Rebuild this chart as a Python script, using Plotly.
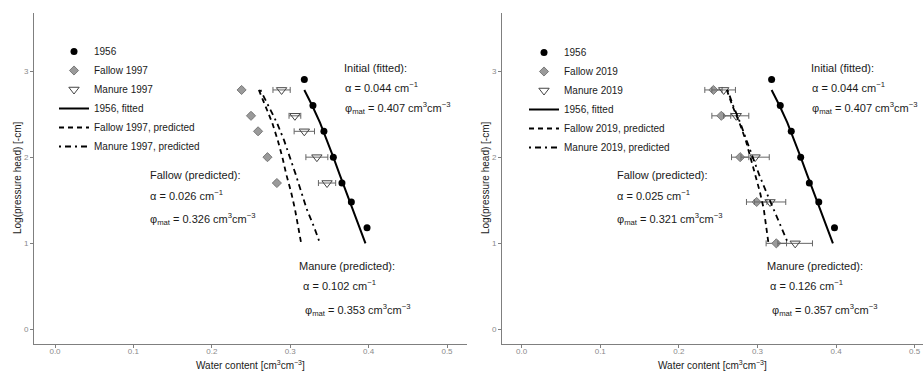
import plotly.graph_objects as go

# ---------------- data ----------------
# 1956 measurements (shared by both panels)
h_1956 = [2.90, 2.60, 2.30, 2.00, 1.70, 1.48, 1.18]
theta_1956 = [0.318, 0.329, 0.343, 0.355, 0.366, 0.378, 0.398]

# heads at which the curves are drawn
h_curve = [2.78, 2.6, 2.4, 2.2, 2.0, 1.8, 1.6, 1.4, 1.2, 1.0]
theta_1956_fit = [0.318, 0.328, 0.338, 0.347, 0.355, 0.363, 0.371, 0.379, 0.388, 0.396]

# 1997
h_1997 = [2.78, 2.48, 2.30, 2.00, 1.70]
theta_fallow_1997 = [0.238, 0.250, 0.259, 0.271, 0.283]
err_fallow_1997 = [0.002, 0.002, 0.002, 0.002, 0.002]
theta_manure_1997 = [0.289, 0.306, 0.318, 0.334, 0.347]
err_manure_1997 = [0.011, 0.0075, 0.013, 0.014, 0.011]
theta_fallow_1997_pred = [0.260, 0.268, 0.277, 0.284, 0.290, 0.295, 0.301, 0.306, 0.310, 0.314]
theta_manure_1997_pred = [0.262, 0.272, 0.283, 0.292, 0.300, 0.307, 0.314, 0.321, 0.330, 0.338]

# 2019
h_2019 = [2.78, 2.48, 2.00, 1.48, 1.00]
theta_fallow_2019 = [0.244, 0.254, 0.278, 0.299, 0.324]
err_fallow_2019 = [0.011, 0.012, 0.011, 0.013, 0.013]
theta_manure_2019 = [0.257, 0.273, 0.297, 0.316, 0.348]
err_manure_2019 = [0.015, 0.016, 0.018, 0.020, 0.022]
theta_fallow_2019_pred = [0.261, 0.268, 0.277, 0.285, 0.291, 0.297, 0.303, 0.308, 0.311, 0.314]
theta_manure_2019_pred = [0.262, 0.269, 0.278, 0.286, 0.293, 0.302, 0.311, 0.320, 0.329, 0.339]

x_ticks = [0.0, 0.1, 0.2, 0.3, 0.4, 0.5]
x_ticklabels = ["0.0", "0.1", "0.2", "0.3", "0.4", "0.5"]
y_ticks = [0, 1, 2, 3]
y_ticklabels = ["0", "1", "2", "3"]

x_title = "Water content [cm<sup>3</sup>cm<sup>−3</sup>]"
y_title = "Log(pressure head) [-cm]"

panels = [
    dict(year="1997", h=h_1997, fal=theta_fallow_1997, efal=err_fallow_1997,
         man=theta_manure_1997, eman=err_manure_1997,
         fal_pred=theta_fallow_1997_pred, man_pred=theta_manure_1997_pred,
         fal_alpha="0.026", fal_phi="0.326", man_alpha="0.102", man_phi="0.353"),
    dict(year="2019", h=h_2019, fal=theta_fallow_2019, efal=err_fallow_2019,
         man=theta_manure_2019, eman=err_manure_2019,
         fal_pred=theta_fallow_2019_pred, man_pred=theta_manure_2019_pred,
         fal_alpha="0.025", fal_phi="0.321", man_alpha="0.126", man_phi="0.357"),
]
init_alpha, init_phi = "0.044", "0.407"

# ---------------- figure ----------------
W, H = 923, 374
FONT = "Arial, Liberation Sans, sans-serif"
fig = go.Figure()

for i, p in enumerate(panels):
    xa = "x" if i == 0 else "x2"
    ya = "y" if i == 0 else "y2"
    lg = "legend" if i == 0 else "legend2"
    yr = p["year"]
    fig.add_trace(go.Scatter(x=theta_1956, y=h_1956, mode="markers", name="1956",
                             marker=dict(symbol="circle", size=7, color="black"),
                             xaxis=xa, yaxis=ya, legend=lg))
    fig.add_trace(go.Scatter(x=p["fal"], y=p["h"], mode="markers", name=f"Fallow {yr}",
                             marker=dict(symbol="diamond", size=7, color="#9a9a9a",
                                         line=dict(color="#7a7a7a", width=1)),
                             error_x=dict(type="data", array=p["efal"], color="#666666",
                                          thickness=1, width=3),
                             xaxis=xa, yaxis=ya, legend=lg))
    fig.add_trace(go.Scatter(x=p["man"], y=p["h"], mode="markers", name=f"Manure {yr}",
                             marker=dict(symbol="triangle-down-open", size=9, color="#444444",
                                         line=dict(width=1)),
                             error_x=dict(type="data", array=p["eman"], color="#666666",
                                          thickness=1, width=3),
                             xaxis=xa, yaxis=ya, legend=lg))
    fig.add_trace(go.Scatter(x=theta_1956_fit, y=h_curve, mode="lines", name="1956, fitted",
                             line=dict(color="black", width=2),
                             xaxis=xa, yaxis=ya, legend=lg))
    fig.add_trace(go.Scatter(x=p["fal_pred"], y=h_curve, mode="lines",
                             name=f"Fallow {yr}, predicted",
                             line=dict(color="black", width=1.8, dash="5px,4px"),
                             xaxis=xa, yaxis=ya, legend=lg))
    fig.add_trace(go.Scatter(x=p["man_pred"], y=h_curve, mode="lines",
                             name=f"Manure {yr}, predicted",
                             line=dict(color="black", width=1.8, dash="2px,4px,6px,4px"),
                             xaxis=xa, yaxis=ya, legend=lg))

# annotation texts
def phi(v):
    return f"φ<sub>mat</sub> = {v} cm<sup>3</sup>cm<sup>−3</sup>"

def alpha(v):
    return f"α = {v} cm<sup>−1</sup>"

ann = []
ann_font = dict(family=FONT, size=11, color="#1a1a1a")
title_font = dict(family=FONT, size=10, color="#1a1a1a")
for i, p in enumerate(panels):
    xr = "x" if i == 0 else "x2"
    yrf = "y" if i == 0 else "y2"
    items = [
        ("Initial (fitted):", 0.366, 3.04),
        (alpha(init_alpha), 0.367, 2.81),
        (phi(init_phi), 0.367, 2.575),
        ("Fallow (predicted):", 0.119, 1.79),
        (alpha(p["fal_alpha"]), 0.119, 1.565),
        (phi(p["fal_phi"]), 0.119, 1.28),
        ("Manure (predicted):", 0.309, 0.737),
        (alpha(p["man_alpha"]), 0.314, 0.514),
        (phi(p["man_phi"]), 0.316, 0.232),
    ]
    for t, x, y in items:
        ann.append(dict(text=t, x=x, y=y, xref=xr, yref=yrf, xanchor="left",
                        yanchor="middle", showarrow=False, font=ann_font))

# axis titles as annotations (x: centred below each panel, y: rotated at left)
for xc, yc_x in [((34 + 467) / 2, 17), ((502 + 923) / 2, 485)]:
    ann.append(dict(text=x_title, x=xc / W, y=1 - 365 / H, xref="paper", yref="paper",
                    xanchor="center", yanchor="middle", showarrow=False, font=title_font))
    ann.append(dict(text=y_title, x=yc_x / W, y=1 - 178 / H, xref="paper", yref="paper",
                    xanchor="center", yanchor="middle", textangle=-90, showarrow=False,
                    font=title_font))

axis_common = dict(showgrid=False, zeroline=False, showline=True, linecolor="#7f7f7f",
                   linewidth=1, ticks="outside", ticklen=3, tickcolor="#7f7f7f",
                   tickfont=dict(family=FONT, size=8, color="#8a8a8a"),
                   automargin=False, mirror=False)

ydom = [1 - 344 / H, 1 - 13 / H]
fig.update_layout(
    width=W, height=H,
    margin=dict(l=0, r=0, t=0, b=0),
    paper_bgcolor="white", plot_bgcolor="white",
    font=dict(family=FONT, color="#1a1a1a"),
    showlegend=True,
    xaxis=dict(domain=[34 / W, 467 / W], range=[-0.0268, 0.5255], tickvals=x_ticks,
               ticktext=x_ticklabels, anchor="y", ticklabelstandoff=-4, **axis_common),
    yaxis=dict(domain=ydom, range=[-0.168, 3.673], tickvals=y_ticks,
               ticktext=y_ticklabels, anchor="x", **axis_common),
    xaxis2=dict(domain=[502 / W, 1.0], range=[-0.025, 0.5106], tickvals=x_ticks,
                ticktext=x_ticklabels, anchor="y2", ticklabelstandoff=-4, **axis_common),
    yaxis2=dict(domain=ydom, range=[-0.168, 3.673], tickvals=y_ticks,
                ticktext=y_ticklabels, anchor="x2", **axis_common),
    legend=dict(x=54 / W, y=1 - 37 / H, xanchor="left", yanchor="top",
                bgcolor="rgba(0,0,0,0)", itemwidth=30, tracegroupgap=0,
                font=dict(family=FONT, size=10, color="#1a1a1a")),
    legend2=dict(x=524 / W, y=1 - 38 / H, xanchor="left", yanchor="top",
                 bgcolor="rgba(0,0,0,0)", itemwidth=30, tracegroupgap=0,
                 font=dict(family=FONT, size=10, color="#1a1a1a")),
    annotations=ann,
)

fig.write_html("out.html", config={"displayModeBar": False},
               post_script="document.body.style.margin='0px';")
